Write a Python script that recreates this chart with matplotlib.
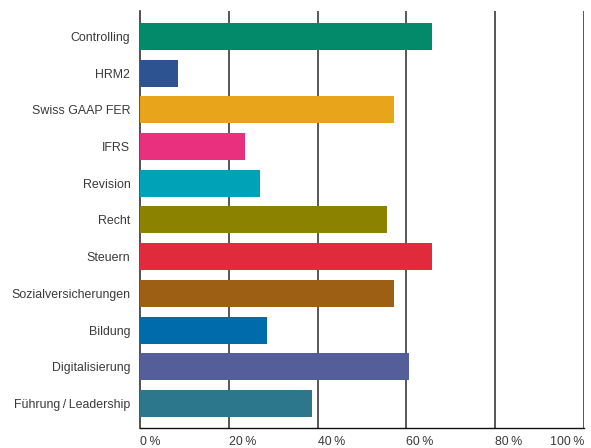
import matplotlib
matplotlib.use("Agg")
import matplotlib.pyplot as plt

categories = [
    "Controlling", "HRM2", "Swiss GAAP FER", "IFRS", "Revision", "Recht",
    "Steuern", "Sozialversicherungen", "Bildung", "Digitalisierung",
    "Führung\u2009/\u2009Leadership",
]
values = [65.7, 8.6, 57.2, 23.6, 27.0, 55.6, 65.7, 57.2, 28.6, 60.6, 38.7]
colors = [
    "#028A6B", "#2D5491", "#E8A51C", "#E8307F", "#00A2B8", "#8B8200",
    "#E02B3C", "#9C5F13", "#006BAA", "#535E9B", "#2D778C",
]
xticks = [0, 20, 40, 60, 80, 100]
xticklabels = ["0\u2009%", "20\u2009%", "40\u2009%", "60\u2009%", "80\u2009%", "100\u2009%"]

plt.rcParams["font.family"] = ["Liberation Sans", "DejaVu Sans"]
text_color = "#3a3a3a"

fig = plt.figure(figsize=(5.91, 4.48), dpi=100)
ax = fig.add_axes([140 / 591, 1 - 428 / 448, 444 / 591, 417 / 448])

y = list(range(len(categories)))
ax.barh(y, values, height=0.736, color=colors, zorder=3)

for t in xticks[1:]:
    ax.axvline(t, color="#4a4a4a", linewidth=1.3, zorder=1)

ax.set_xlim(0, 100)
ax.set_ylim(10.67, -0.695)

ax.set_yticks(y)
ax.set_yticklabels(categories, fontsize=8.9, color=text_color)
ax.tick_params(axis="y", length=0, pad=7)

ax.set_xticks(xticks)
ax.set_xticklabels(xticklabels, fontsize=8.9, color=text_color)
ax.tick_params(axis="x", length=0, pad=6)
for lbl in ax.get_xticklabels()[:-1]:
    lbl.set_horizontalalignment("left")
ax.get_xticklabels()[-1].set_horizontalalignment("right")

for s in ("top", "right"):
    ax.spines[s].set_visible(False)
ax.spines["left"].set_color("#333333")
ax.spines["left"].set_linewidth(1.2)
ax.spines["bottom"].set_color("#111111")
ax.spines["bottom"].set_linewidth(1.0)

fig.savefig("out.png", dpi=100)
